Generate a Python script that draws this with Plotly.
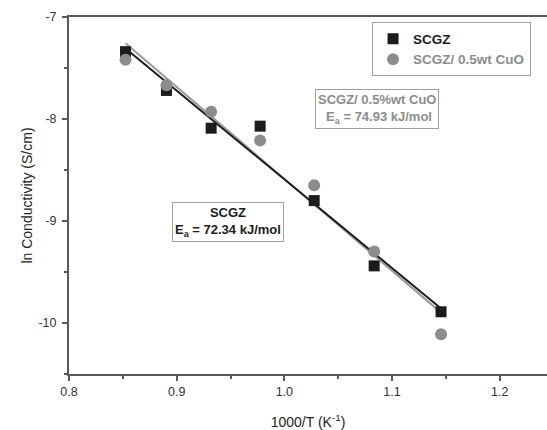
import numpy as np
import plotly.graph_objects as go

# Inverse temperature, 1000/T (K^-1), for 1173 ... 873 K
inv_temp = [0.8525, 0.8905, 0.9320, 0.9775, 1.0277, 1.0834, 1.1455]

# ln(conductivity) in S/cm
ln_sigma_scgz = [-7.34, -7.72, -8.09, -8.07, -8.80, -9.44, -9.89]
ln_sigma_cuo = [-7.42, -7.67, -7.93, -8.21, -8.65, -9.30, -10.11]

# Activation energies (kJ/mol)
ea_scgz = 72.34
ea_cuo = 74.93

R = 8.314  # J/(mol K)

x_ticks = [0.8, 0.9, 1.0, 1.1, 1.2]
x_labels = ["0.8", "0.9", "1.0", "1.1", "1.2"]
y_ticks = [-7, -8, -9, -10]
y_labels = ["-7", "-8", "-9", "-10"]

FONT = "Arial, Liberation Sans, sans-serif"
DARK = "#1c1c1c"
GREY = "#8c8c8c"


def arrhenius_line(x, y, ea_kj):
    """Line with slope -Ea/R (per 1000/T unit) through the data centroid."""
    x = np.asarray(x)
    y = np.asarray(y)
    slope = -ea_kj * 1000.0 / R / 1000.0
    intercept = y.mean() - slope * x.mean()
    xs = np.array([x.min(), x.max()])
    return xs, intercept + slope * xs


fig = go.Figure()

xs_c, ys_c = arrhenius_line(inv_temp, ln_sigma_cuo, ea_cuo)
xs_s, ys_s = arrhenius_line(inv_temp, ln_sigma_scgz, ea_scgz)

fig.add_trace(go.Scatter(x=xs_c, y=ys_c, mode="lines",
                         line=dict(color="#9a9a9a", width=2),
                         showlegend=False, hoverinfo="skip"))
fig.add_trace(go.Scatter(x=xs_s, y=ys_s, mode="lines",
                         line=dict(color=DARK, width=2),
                         showlegend=False, hoverinfo="skip"))

fig.add_trace(go.Scatter(x=inv_temp, y=ln_sigma_scgz, mode="markers",
                         name="<b>SCGZ</b>",
                         marker=dict(symbol="square", size=11, color=DARK)))
fig.add_trace(go.Scatter(x=inv_temp, y=ln_sigma_cuo, mode="markers",
                         name="<b><span style='color:%s'>SCGZ/ 0.5wt CuO</span></b>" % GREY,
                         marker=dict(symbol="circle", size=12, color=GREY)))

axis_common = dict(
    showline=True, linecolor="#5a5a5a", linewidth=2,
    ticks="outside", ticklen=5, tickwidth=1.5, tickcolor="#5a5a5a",
    showgrid=False, zeroline=False,
    tickfont=dict(family=FONT, size=12.5, color="#333333"),
)

fig.update_xaxes(
    range=[0.8, 1.2439], tickvals=x_ticks, ticktext=x_labels,
    mirror=True,
    minor=dict(ticks="outside", dtick=0.05, ticklen=3, tickcolor="#5a5a5a"),
    title=dict(text="1000/T (K<sup>-1</sup>)",
               font=dict(family=FONT, size=14, color="#222222"), standoff=22),
    **axis_common,
)
fig.update_yaxes(
    range=[-10.5, -7], tickvals=y_ticks, ticktext=y_labels,
    ticklabelstandoff=3,
    minor=dict(ticks="outside", dtick=0.5, ticklen=3, tickcolor="#5a5a5a"),
    title=dict(text="ln Conductivity (S/cm)",
               font=dict(family=FONT, size=14, color="#222222"), standoff=3),
    **axis_common,
)

fig.add_annotation(
    x=1.0861, y=-7.90, xref="x", yref="y", showarrow=False,
    text="<b>SCGZ/ 0.5%%wt CuO<br> E<sub>a</sub> = %.2f kJ/mol</b>" % ea_cuo,
    font=dict(family=FONT, size=13, color=GREY),
    bordercolor="#a0a0a0", borderwidth=1, borderpad=2, bgcolor="white",
    xanchor="center", yanchor="middle",
)
fig.add_annotation(
    x=0.9474, y=-9.005, xref="x", yref="y", showarrow=False,
    text="<b>SCGZ<br>E<sub>a</sub> = %.2f kJ/mol</b>" % ea_scgz,
    font=dict(family=FONT, size=13, color=DARK),
    bordercolor="#a0a0a0", borderwidth=1, borderpad=2, bgcolor="white",
    xanchor="center", yanchor="middle",
)

fig.update_layout(
    width=547, height=430,
    margin=dict(l=69, r=0, t=17, b=56),
    paper_bgcolor="white", plot_bgcolor="white",
    font=dict(family=FONT, size=12, color=DARK),
    legend=dict(
        x=0.634, y=0.985, xanchor="left", yanchor="top",
        bordercolor="#a0a0a0", borderwidth=1, bgcolor="white",
        font=dict(family=FONT, size=13.5, color=DARK),
        tracegroupgap=0, itemwidth=30,
    ),
)

fig.write_html("out.html")
